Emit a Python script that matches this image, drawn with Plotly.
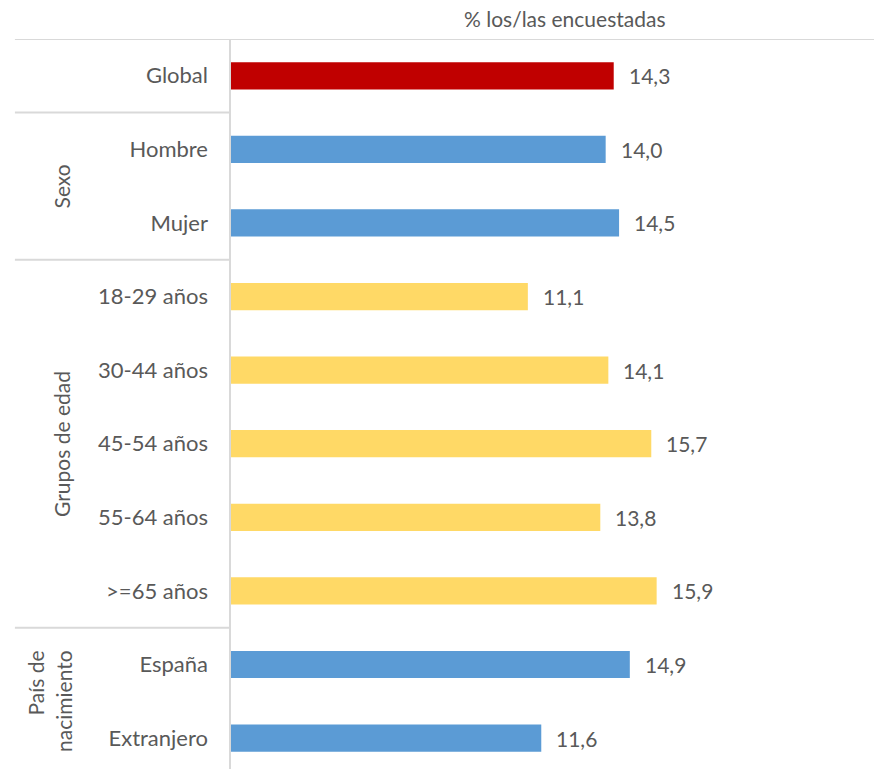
import plotly.graph_objects as go

categories = ["Global", "Hombre", "Mujer", "18-29 años", "30-44 años", "45-54 años",
              "55-64 años", ">=65 años", "España", "Extranjero"]
values = [14.3, 14.0, 14.5, 11.1, 14.1, 15.7, 13.8, 15.9, 14.9, 11.6]
colors = ["#C00000", "#5B9BD5", "#5B9BD5", "#FFD966", "#FFD966", "#FFD966",
          "#FFD966", "#FFD966", "#5B9BD5", "#5B9BD5"]
groups = [("Sexo", 1, 2), ("Grupos de edad", 3, 7), ("País de<br>nacimiento", 8, 9)]
separators = [0.5, 2.5, 7.5]
title_text = "% los/las encuestadas"

FONT = "Lato"
TXT = "#595959"
LINE = "#D9D9D9"

pos = list(range(len(categories)))
fig = go.Figure(go.Bar(
    x=values, y=pos, orientation="h",
    marker=dict(color=colors, line=dict(width=0)),
    width=0.37, hoverinfo="skip",
))

ann = []
for v, p in zip(values, pos):
    ann.append(dict(x=v, y=p, xref="x", yref="y", text=f"{v:.1f}".replace(".", ","),
                    showarrow=False, xanchor="left", xshift=13,
                    font=dict(family=FONT, size=21, color=TXT)))
for name, a, b in groups:
    two = "<br>" in name
    ann.append(dict(x=-0.262 if not two else -0.28, y=(a + b) / 2, xref="paper", yref="y",
                    text=name, textangle=-90, showarrow=False, align="right",
                    xanchor="center", yanchor="middle",
                    font=dict(family=FONT, size=21, color=TXT)))
ann.append(dict(x=0.52, y=1.0, xref="paper", yref="paper", yshift=6, text=title_text,
                showarrow=False, xanchor="center", yanchor="bottom",
                font=dict(family=FONT, size=21, color=TXT)))

shapes = []
for s in separators:
    shapes.append(dict(type="line", xref="paper", yref="y", x0=-0.334, x1=0, y0=s, y1=s,
                       line=dict(color=LINE, width=2)))
shapes.append(dict(type="line", xref="paper", yref="y", x0=-0.334, x1=1, y0=-0.5, y1=-0.5,
                   line=dict(color=LINE, width=2)))
shapes.append(dict(type="line", xref="paper", yref="paper", x0=0, x1=0, y0=0, y1=1,
                   line=dict(color=LINE, width=2)))

fig.update_layout(
    width=874, height=769,
    margin=dict(l=230, r=0, t=39, b=0),
    paper_bgcolor="white", plot_bgcolor="white",
    showlegend=False,
    xaxis=dict(range=[0, 24], showgrid=False, zeroline=False, showticklabels=False,
               showline=False, fixedrange=True),
    yaxis=dict(range=[9.42, -0.5], tickmode="array", tickvals=pos, ticktext=categories,
               showgrid=False, zeroline=False, showline=False, ticks="",
               ticklabelstandoff=21,
               tickfont=dict(family=FONT, size=22, color=TXT)),
    annotations=ann, shapes=shapes,
)
fig.write_html("out.html", config={"displayModeBar": False},
               post_script="document.body.style.margin='0px';document.body.style.overflow='hidden';")
